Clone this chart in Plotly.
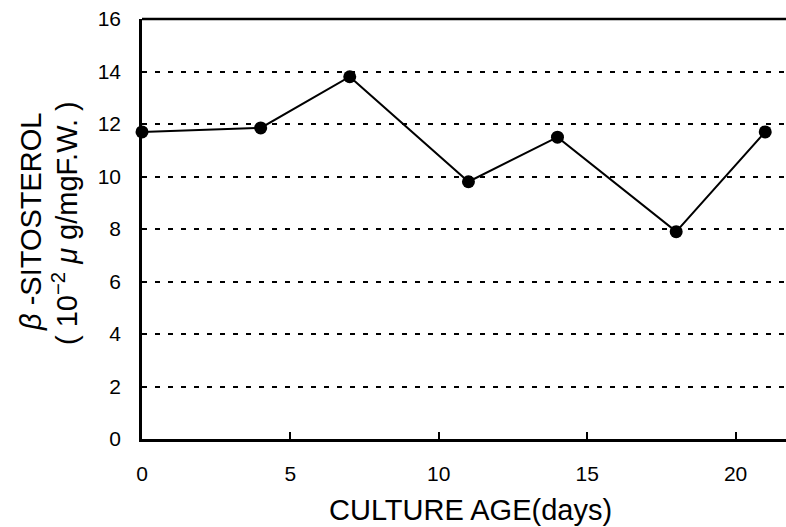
import plotly.graph_objects as go

days = [0, 4, 7, 11, 14, 18, 21]
sitosterol = [11.7, 11.85, 13.8, 9.8, 11.5, 7.9, 11.7]
x_ticks = [0, 5, 10, 15, 20]
y_ticks = [0, 2, 4, 6, 8, 10, 12, 14, 16]

W, H = 786, 527
L, R, T, B = 142, 0, 19, 88
pw, ph = W - L - R, H - T - B

fig = go.Figure()
fig.add_trace(go.Scatter(
    x=days, y=sitosterol, mode="lines+markers",
    line=dict(color="black", width=2),
    marker=dict(color="black", size=13),
    cliponaxis=False, showlegend=False,
))

font = "Liberation Sans, Arial, sans-serif"
fig.update_layout(
    width=W, height=H,
    margin=dict(l=L, r=R, t=T, b=B),
    paper_bgcolor="white", plot_bgcolor="white",
    font=dict(family=font, color="black", size=21),
    xaxis=dict(
        range=[0, 21.7], tickvals=x_ticks, ticks="inside", ticklen=7,
        tickwidth=2, tickcolor="black", showline=True, linewidth=2.5,
        linecolor="black", showgrid=False, zeroline=False,
        ticklabelstandoff=14, tickfont=dict(size=21),
    ),
    yaxis=dict(
        range=[0, 16], tickvals=y_ticks, ticks="", showline=True,
        linewidth=2.5, linecolor="black", mirror=False,
        showgrid=True, gridcolor="black", gridwidth=2,
        griddash="5px,8px", zeroline=False,
        ticklabelstandoff=14, tickfont=dict(size=21),
    ),
)
# top border
fig.add_shape(type="line", xref="paper", yref="paper", x0=0, x1=1, y0=1, y1=1,
              line=dict(color="black", width=2.5))

def px_x(p):
    return (p - L) / pw

def px_y(p):
    return (H - B - p) / ph

fig.add_annotation(
    text="CULTURE AGE(days)", xref="paper", yref="paper",
    x=px_x(470), y=px_y(510), xanchor="center", yanchor="middle",
    showarrow=False, font=dict(size=29, family=font),
)
fig.add_annotation(
    text="<i>β</i> -SITOSTEROL",
    xref="paper", yref="paper", x=px_x(31), y=px_y(222),
    xanchor="center", yanchor="middle", textangle=-90, showarrow=False,
    font=dict(size=29, family=font),
)
fig.add_annotation(
    text="( 10<sup>−2</sup> <i>μ</i> g/mgF.W. )",
    xref="paper", yref="paper", x=px_x(65), y=px_y(223),
    xanchor="center", yanchor="middle", textangle=-90, showarrow=False,
    font=dict(size=29, family=font),
)

fig.write_html("out.html")
